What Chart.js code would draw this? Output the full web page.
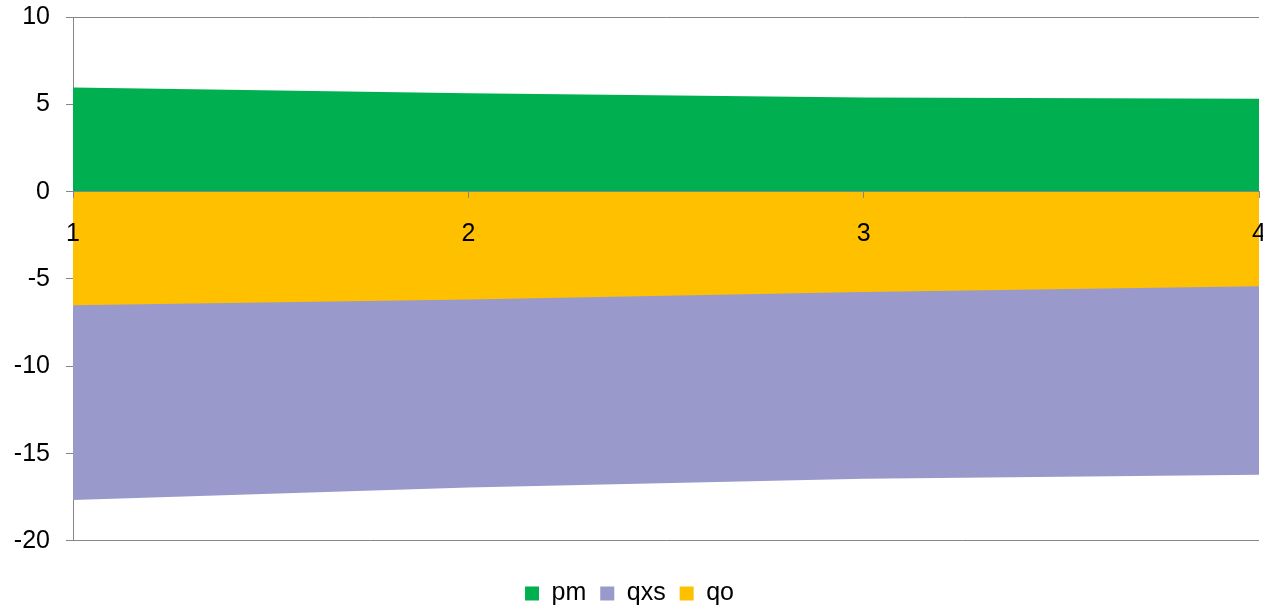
<!DOCTYPE html>
<html lang="en">
<head>
    <meta charset="UTF-8">
    <title>pm qxs qo</title>
    <script src="https://cdn.jsdelivr.net/npm/chart.js@4/dist/chart.umd.min.js"></script>
    <style>
        html, body { margin: 0; padding: 0; background: #fff; }
        .wrap { width: 1263px; height: 609px; }
    </style>
</head>
<body>
    <div class="wrap"><canvas id="myChart" width="1263" height="609"></canvas></div>
<script>
    // values
    let periods = ['1', '2', '3', '4'];
    let pm = [5.96, 5.63, 5.39, 5.32];
    let qxs = [-11.14, -10.77, -10.69, -10.79];
    let qo = [-6.51, -6.17, -5.75, -5.42];
    let legendOrder = ['pm', 'qxs', 'qo'];

    let axisGrey = '#868686';
    Chart.defaults.font.family = '"Liberation Sans", Arial, sans-serif';
    Chart.defaults.font.size = 25;
    Chart.defaults.color = '#000000';

    let ctx = document.getElementById('myChart').getContext('2d');
    let areaChart = new Chart(ctx, {
        type: 'line',
        data: {
            labels: periods,
            // qo comes before qxs so it sits next to zero in the negative stack
            datasets: [{
                label: 'pm',
                data: pm,
                backgroundColor: '#00B050',
                borderWidth: 0,
                pointRadius: 0,
                fill: 'origin'
            }, {
                label: 'qo',
                data: qo,
                backgroundColor: '#FFC000',
                borderWidth: 0,
                pointRadius: 0,
                fill: 'origin'
            }, {
                label: 'qxs',
                data: qxs,
                backgroundColor: '#9999CC',
                borderWidth: 0,
                pointRadius: 0,
                fill: 'origin'
            }]
        },
        options: {
            responsive: false,
            animation: false,
            layout: { autoPadding: false, padding: { left: 0, right: 4, top: 17, bottom: -7 } },
            elements: { line: { tension: 0 } },
            plugins: {
                tooltip: { enabled: false },
                legend: {
                    position: 'bottom',
                    // empty title just pushes the keys down below the plot
                    title: { display: true, text: ' ', font: { size: 21.67 }, padding: 0 },
                    labels: {
                        boxWidth: 14,
                        boxHeight: 14,
                        padding: 14,
                        font: { size: 25 },
                        sort: (a, b) => legendOrder.indexOf(a.text) - legendOrder.indexOf(b.text)
                    }
                }
            },
            scales: {
                x: {
                    position: { y: 0 },
                    offset: false,
                    afterFit: (scale) => { scale.paddingLeft = 0; scale.paddingRight = 0; },
                    grid: { drawOnChartArea: false, drawTicks: true, tickLength: 6, color: axisGrey, z: 1 },
                    border: { color: axisGrey, z: 1 },
                    ticks: { padding: 21, autoSkip: false, maxRotation: 0, z: 1 }
                },
                y: {
                    stacked: true,
                    min: -20,
                    max: 10,
                    afterFit: (scale) => {
                        scale.width = 73;
                        scale.paddingTop = 0;
                        scale.paddingBottom = 0;
                    },
                    grid: { color: axisGrey, tickLength: 7 },
                    border: { color: axisGrey },
                    ticks: { stepSize: 5, padding: 16 }
                }
            }
        }
    });
</script>
</body>
</html>
